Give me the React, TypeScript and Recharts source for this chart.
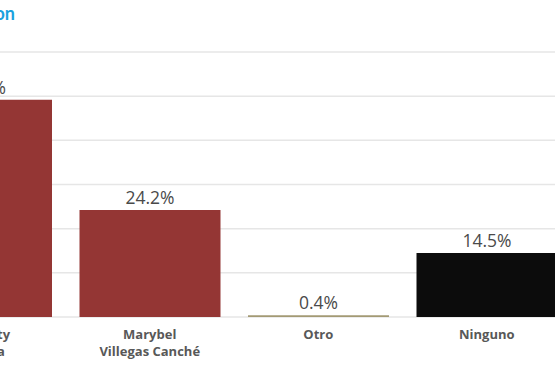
import { BarChart, Bar, XAxis, YAxis, CartesianGrid, Cell, LabelList } from 'recharts';

const candidates = ['Ana Paty Peralta', 'Marybel Villegas Canché', 'Otro', 'Ninguno'];
const labelLines = [['Ana Paty', 'Peralta'], ['Marybel', 'Villegas Canché'], ['Otro'], ['Ninguno']];
const shares = [49.2, 24.2, 0.4, 14.5];
const barColors = ['#943634', '#943634', '#a39a74', '#0c0c0c'];
const yTicks = [0, 10, 20, 30, 40, 50, 60];

const data = candidates.map((name, i) => ({ name, share: shares[i], idx: i }));

function CategoryTick(props: any) {
  const { x, y, payload } = props;
  const lines = labelLines[payload.index] ?? [payload.value];
  return (
    <g transform={`translate(${x},${y})`}>
      {lines.map((l: string, i: number) => (
        <text
          key={i}
          x={0}
          y={14 + i * 17}
          textAnchor="middle"
          fill="#585858"
          fontFamily="'Open Sans', sans-serif"
          fontWeight={700}
          fontSize={13}
        >
          {l}
        </text>
      ))}
    </g>
  );
}

export default function App() {
  return (
    <div
      style={{
        position: 'absolute',
        left: 0,
        top: 0,
        width: 555,
        height: 370,
        overflow: 'hidden',
        background: '#fff',
      }}
    >
      {/* título recortado: solo se ve el final */}
      <div
        style={{
          position: 'absolute',
          right: 540,
          top: 2,
          whiteSpace: 'nowrap',
          fontFamily: 'Lato, sans-serif',
          fontWeight: 700,
          fontSize: 18,
          color: '#1aa1de',
        }}
      >
        Preferencia de votacion
      </div>
      <div style={{ position: 'absolute', left: -200, top: 0 }}>
        <BarChart
          width={800}
          height={370}
          data={data}
          margin={{ top: 52, right: 29, bottom: 13, left: 97 }}
        >
          <CartesianGrid vertical={false} stroke="#e6e6e6" strokeWidth={1.5} />
          <YAxis hide domain={[0, 60]} ticks={yTicks} />
          <XAxis
            dataKey="name"
            height={40}
            axisLine={false}
            tickLine={false}
            interval={0}
            tick={<CategoryTick />}
          />
          <Bar dataKey="share" barSize={141} isAnimationActive={false}>
            {data.map((d, i) => (
              <Cell key={d.name} fill={barColors[i]} />
            ))}
            <LabelList
              dataKey="share"
              position="top"
              offset={6}
              formatter={(v: any) => `${v}%`}
              fill="#4a4a4a"
              fontFamily="'Open Sans', sans-serif"
              fontSize={17.5}
            />
          </Bar>
        </BarChart>
      </div>
    </div>
  );
}
